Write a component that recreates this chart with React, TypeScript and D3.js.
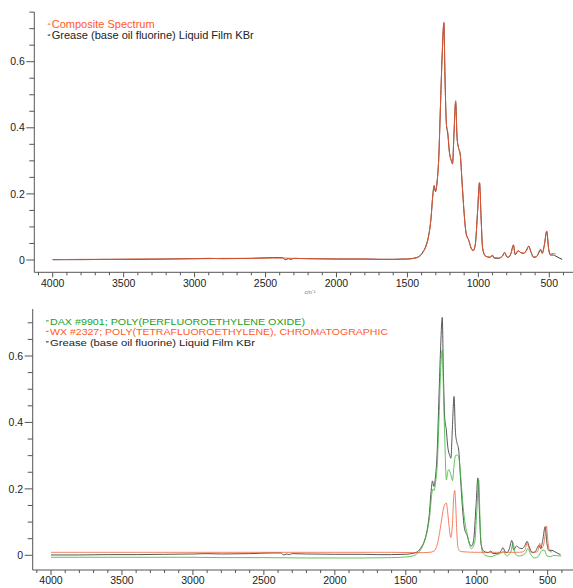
import React from "react";
import * as d3 from "d3";

// ---- Data (wavenumber cm^-1, absorbance) ----
const greaseWn = [4000, 3800, 3600, 3400, 3200, 3000, 2900, 2800, 2600, 2450, 2380, 2360, 2340, 2320, 2300, 2200, 2000, 1800, 1700, 1600, 1500, 1450, 1420, 1390, 1370, 1350, 1335, 1320, 1312, 1302, 1290, 1280, 1266, 1255, 1243, 1235, 1225, 1215, 1205, 1190, 1182, 1172, 1160, 1150, 1140, 1128, 1114, 1100, 1086, 1068, 1050, 1037, 1022, 1005, 992, 980, 970, 950, 920, 900, 890, 860, 830, 815, 800, 787, 770, 753, 740, 720, 700, 680, 660, 645, 630, 610, 590, 561, 550, 535, 518, 505, 493, 470, 455, 430, 410];
const greaseAbs = [0.001, 0.001, 0.002, 0.002, 0.003, 0.004, 0.005, 0.004, 0.005, 0.007, 0.007, 0.001, 0.004, 0.002, 0.005, 0.004, 0.003, 0.003, 0.002, 0.002, 0.003, 0.006, 0.010, 0.025, 0.042, 0.075, 0.12, 0.20, 0.224, 0.207, 0.24, 0.30, 0.48, 0.62, 0.716, 0.55, 0.41, 0.38, 0.33, 0.30, 0.292, 0.38, 0.478, 0.37, 0.34, 0.32, 0.23, 0.14, 0.08, 0.06, 0.035, 0.028, 0.045, 0.15, 0.233, 0.12, 0.035, 0.012, 0.008, 0.013, 0.006, 0.005, 0.012, 0.023, 0.010, 0.008, 0.020, 0.045, 0.016, 0.028, 0.022, 0.020, 0.030, 0.042, 0.025, 0.008, 0.010, 0.030, 0.020, 0.045, 0.086, 0.035, 0.015, 0.015, 0.012, 0.006, 0.002];

const compositeWn = [4000, 3800, 3600, 3400, 3200, 3000, 2900, 2800, 2600, 2450, 2380, 2300, 2200, 2000, 1800, 1700, 1600, 1500, 1450, 1420, 1390, 1370, 1350, 1335, 1320, 1312, 1302, 1290, 1280, 1266, 1255, 1243, 1235, 1225, 1215, 1205, 1190, 1182, 1172, 1160, 1150, 1140, 1128, 1114, 1100, 1086, 1068, 1050, 1037, 1022, 1005, 992, 980, 970, 950, 920, 900, 890, 860, 830, 815, 800, 787, 770, 753, 740, 720, 700, 680, 660, 645, 630, 610, 590, 561, 550, 535, 518, 505, 493, 470, 455];
const compositeAbs = [0.001, 0.002, 0.002, 0.003, 0.003, 0.004, 0.004, 0.005, 0.005, 0.006, 0.006, 0.005, 0.004, 0.003, 0.003, 0.002, 0.002, 0.003, 0.005, 0.009, 0.023, 0.040, 0.073, 0.12, 0.20, 0.226, 0.209, 0.24, 0.30, 0.48, 0.62, 0.72, 0.55, 0.41, 0.385, 0.33, 0.30, 0.29, 0.38, 0.482, 0.37, 0.34, 0.32, 0.23, 0.14, 0.08, 0.06, 0.036, 0.028, 0.045, 0.15, 0.235, 0.12, 0.036, 0.012, 0.009, 0.015, 0.007, 0.006, 0.012, 0.023, 0.011, 0.009, 0.020, 0.046, 0.017, 0.028, 0.022, 0.021, 0.030, 0.042, 0.026, 0.009, 0.011, 0.033, 0.021, 0.045, 0.088, 0.035, 0.018, 0.020, 0.018];

const daxWn = [4000, 3500, 3000, 2800, 2500, 2200, 2000, 1800, 1600, 1500, 1450, 1420, 1390, 1370, 1350, 1331, 1315, 1308, 1300, 1290, 1280, 1265, 1255, 1242, 1235, 1225, 1214, 1204, 1196, 1188, 1181, 1171, 1160, 1150, 1140, 1127, 1113, 1096, 1080, 1068, 1050, 1038, 1014, 1000, 986, 975, 960, 940, 900, 860, 830, 812, 790, 760, 744, 730, 700, 660, 639, 620, 590, 570, 540, 525, 505, 480, 455, 420, 404];
const daxAbs = [-0.006, -0.006, -0.006, -0.007, -0.007, -0.008, -0.008, -0.008, -0.007, -0.005, -0.002, 0.005, 0.02, 0.04, 0.07, 0.12, 0.19, 0.20, 0.195, 0.22, 0.26, 0.42, 0.55, 0.62, 0.50, 0.347, 0.227, 0.252, 0.258, 0.25, 0.24, 0.225, 0.27, 0.30, 0.302, 0.295, 0.237, 0.147, 0.09, 0.066, 0.03, 0.02, 0.04, 0.13, 0.227, 0.08, 0.01, 0.0, -0.004, 0.002, 0.006, 0.012, -0.002, 0.01, 0.038, 0.005, -0.002, 0.005, 0.02, 0.003, -0.008, -0.005, 0.015, 0.016, -0.002, -0.004, 0.0, -0.002, -0.002];

const wxWn = [4000, 3000, 2000, 1600, 1450, 1380, 1330, 1300, 1280, 1265, 1250, 1235, 1222, 1214, 1205, 1197, 1183, 1171, 1163, 1155, 1148, 1143, 1133, 1120, 1106, 1000, 700, 680, 660, 645, 630, 612, 590, 570, 556, 545, 530, 520, 509, 498, 486, 470];
const wxAbs = [0.009, 0.009, 0.009, 0.009, 0.008, 0.008, 0.009, 0.013, 0.03, 0.06, 0.10, 0.14, 0.155, 0.157, 0.13, 0.096, 0.054, 0.096, 0.17, 0.195, 0.15, 0.096, 0.026, 0.013, 0.011, 0.009, 0.009, 0.010, 0.016, 0.036, 0.02, 0.01, 0.009, 0.012, 0.036, 0.02, 0.03, 0.055, 0.088, 0.04, 0.012, 0.010];

const topLegend = ["Composite Spectrum", "Grease (base oil fluorine) Liquid Film KBr"];
const bottomLegend = ["DAX #9901; POLY(PERFLUOROETHYLENE OXIDE)", "WX #2327; POLY(TETRAFLUOROETHYLENE), CHROMATOGRAPHIC", "Grease (base oil fluorine) Liquid Film KBr"];
const xMajorTicks = [4000, 3500, 3000, 2500, 2000, 1500, 1000, 500];
const yMajorTicks = [0, 0.2, 0.4, 0.6];

const RED = "#f0562e";
const RED_TEXT = "#ff5a28";
const BLACK = "#3a3a3a";
const GREEN = "#44b844";
const GREEN_TEXT = "#1e9e1e";
const FONT = "'Liberation Sans', Arial, sans-serif";

type Panel = {
  axisX: number;
  axisY: number;
  axisTop: number;
  xRange: [number, number];
  yRange: [number, number];
  yMaxMinor: number;
};

function zip(wn: number[], abs: number[]): [number, number][] {
  return wn.map((w, i) => [w, abs[i]]);
}

function Axes({ p, unit }: { p: Panel; unit?: boolean }) {
  const x = d3.scaleLinear().domain([4000, 500]).range(p.xRange);
  const y = d3.scaleLinear().domain([0, 0.6]).range(p.yRange);
  const xMinor = d3.range(4100, 300, -100);
  const yMinor = d3.range(0, p.yMaxMinor + 0.001, 0.05);
  const axisColor = "#555";
  return (
    <g>
      <line x1={p.axisX} x2={p.axisX} y1={p.axisTop} y2={p.axisY} stroke={axisColor} strokeWidth={1} />
      <line x1={p.axisX} x2={575} y1={p.axisY} y2={p.axisY} stroke={axisColor} strokeWidth={1} />
      {yMinor.map((v) => {
        const major = yMajorTicks.some((m) => Math.abs(m - v) < 1e-6);
        return (
          <line key={"ym" + v} x1={p.axisX - (major ? 8 : 5)} x2={p.axisX} y1={y(v)} y2={y(v)} stroke={axisColor} strokeWidth={1} />
        );
      })}
      {yMajorTicks.map((v) => (
        <text key={"yl" + v} x={p.axisX - 9.5} y={y(v)} dy="0.35em" textAnchor="end" fontSize={10.5} fontFamily={FONT} fill="#222">
          {v === 0 ? "0" : v.toFixed(1)}
        </text>
      ))}
      {xMinor.map((v) => {
        const major = v % 500 === 0;
        return (
          <line key={"xm" + v} x1={x(v)} x2={x(v)} y1={p.axisY} y2={p.axisY + (major ? 5 : 3)} stroke={axisColor} strokeWidth={1} />
        );
      })}
      {xMajorTicks.map((v) => (
        <text key={"xl" + v} x={x(v)} y={p.axisY + 14.2} textAnchor="middle" fontSize={10.5} fontFamily={FONT} fill="#222">
          {v}
        </text>
      ))}
      {unit && (
        <text x={310} y={p.axisY + 22} textAnchor="middle" fontSize={5.5} fontFamily={FONT} fill="#777">
          cm⁻¹
        </text>
      )}
    </g>
  );
}

function Series({ p, data, color, width = 1, opacity = 1 }: { p: Panel; data: [number, number][]; color: string; width?: number; opacity?: number }) {
  const x = d3.scaleLinear().domain([4000, 500]).range(p.xRange);
  const y = d3.scaleLinear().domain([0, 0.6]).range(p.yRange);
  const line = d3
    .line<[number, number]>()
    .x((d) => x(d[0]))
    .y((d) => y(d[1]))
    .curve(d3.curveMonotoneX);
  return <path d={line(data) || ""} fill="none" stroke={color} strokeWidth={width} strokeOpacity={opacity} strokeLinejoin="round" />;
}

function Legend({ x, ys, items, colors, widths, fontSize }: { x: number; ys: number[]; items: string[]; colors: string[]; widths: number[]; fontSize: number }) {
  return (
    <g>
      {items.map((t, i) => (
        <g key={t}>
          <line x1={x - 4} x2={x - 1.3} y1={ys[i] - 3.6} y2={ys[i] - 3.6} stroke={colors[i]} strokeWidth={1} />
          <text x={x} y={ys[i]} fontSize={fontSize} fontFamily={FONT} fill={colors[i]} textLength={widths[i]} lengthAdjust="spacingAndGlyphs">
            {t}
          </text>
        </g>
      ))}
    </g>
  );
}

export default function App() {
  const top: Panel = { axisX: 34.3, axisY: 272.3, axisTop: 12, xRange: [52.7, 549.3], yRange: [260, 61.7], yMaxMinor: 0.75 };
  const bot: Panel = { axisX: 32.7, axisY: 570, axisTop: 309, xRange: [51, 547.7], yRange: [555.3, 356], yMaxMinor: 0.7 };
  return (
    <svg width={573} height={588} style={{ position: "absolute", left: 0, top: 0, background: "#fff" }}>
      <rect width={573} height={588} fill="#fff" />
      <Axes p={top} unit />
      <Series p={top} data={zip(greaseWn, greaseAbs)} color={BLACK} />
      <Series p={top} data={zip(compositeWn, compositeAbs)} color={RED} opacity={0.9} />
      <Legend x={51.7} ys={[27.7, 38.7]} items={topLegend} colors={[RED_TEXT, "#222"]} widths={[103, 202]} fontSize={10.5} />

      <Axes p={bot} />
      <Series p={bot} data={zip(greaseWn, greaseAbs)} color="#555" />
      <Series p={bot} data={zip(daxWn, daxAbs)} color={GREEN} opacity={0.85} />
      <Series p={bot} data={zip(wxWn, wxAbs)} color={RED} opacity={0.75} />
      <Legend x={50} ys={[324.5, 335, 345.5]} items={bottomLegend} colors={[GREEN_TEXT, RED_TEXT, "#222"]} widths={[255, 338, 205]} fontSize={9.6} />
    </svg>
  );
}
